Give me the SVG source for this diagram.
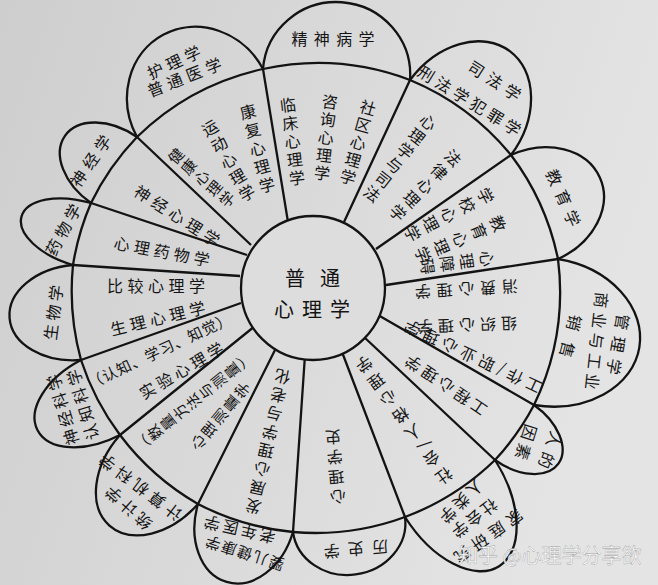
<svg xmlns="http://www.w3.org/2000/svg" width="658" height="585" viewBox="0 0 658 585">
<defs>
<linearGradient id="bg" x1="0" y1="0" x2="1" y2="0.3">
<stop offset="0" stop-color="#cecece"/>
<stop offset="1" stop-color="#e4e4e4"/>
</linearGradient>
<style>
.ln{fill:none;stroke:#131313;stroke-width:2.3;stroke-linejoin:round}
text{font-family:"Noto Sans CJK SC","Noto Sans CJK TC",sans-serif;fill:#141414;font-size:16px}
.h{text-anchor:middle;dominant-baseline:central}
.v{writing-mode:vertical-rl;text-anchor:middle;dominant-baseline:central}
.c{font-size:20px}
.wm{fill:#ffffff;font-size:20px;stroke:#9a9a9a;stroke-width:0.4}
</style>
</defs>
<rect width="658" height="585" fill="url(#bg)"/>

<g id="connectors">
<path class="ln" d="M263,69 A260,260 0 0 1 410,80 A260,260 0 0 1 511,155 A260,260 0 0 1 558,259 A260,260 0 0 1 534,405 A260,260 0 0 1 495,460 A260,260 0 0 1 405,517 A260,260 0 0 1 293,532 A260,260 0 0 1 198,504 A260,260 0 0 1 120,435 A260,260 0 0 1 81,360 A260,260 0 0 1 73,265 A260,260 0 0 1 91,203 A260,260 0 0 1 137,137 A260,260 0 0 1 263,69 Z"/>
<path class="ln" d="M263,69 L288,222 M410,80 L344,222 M511,155 L376,249 M558,259 L386,285 M534,405 L378,315 M495,460 L364,337 M405,517 L342,352 M293,532 L305,355 M198,504 L275,350 M120,435 L255,326 M81,360 L241,303 M73,265 L240,276 M91,203 L247,255 M137,137 L251,245"/>
</g>

<g id="petal-psychiatry"><path class="ln" d="M263,69 A73.2,72 4.3 0 1 410,80"/>
<text class="h" transform="translate(333,38)" x="3.15" letter-spacing="6.3">精神病学</text></g>
<g id="petal-law"><path class="ln" d="M410,80 A62.4,82 36.6 0 1 511,155"/>
<text class="h" transform="translate(495,80) rotate(32.6)" x="2.85" letter-spacing="5.7">司法学</text>
<text class="h" transform="translate(470,100) rotate(31.7)" x="2.15" letter-spacing="4.3">刑法学犯罪学</text></g>
<g id="petal-education"><path class="ln" d="M511,155 A56.5,71 65.7 0 1 558,259"/>
<text class="h" transform="translate(564,197.5) rotate(66.3)" x="3.2" letter-spacing="6.4">教育学</text></g>
<g id="petal-business"><path class="ln" d="M558,259 A73.5,94 99.3 0 1 534,405"/>
<text class="h" transform="translate(619,344.5) rotate(100)" x="3.4" letter-spacing="6.8">管理学</text>
<text class="h" transform="translate(597.5,341) rotate(96.3)" x="2.25" letter-spacing="4.5">商业与工业</text>
<text class="h" transform="translate(571.5,336.5) rotate(104.5)" x="6" letter-spacing="12">销售</text></g>
<g id="petal-human-factors"><path class="ln" d="M534,405 A33.2,53 125.3 0 1 495,460"/>
<text class="h" transform="translate(551,450.5) rotate(110.9)" x="3" letter-spacing="6">人的</text>
<text class="h" transform="translate(527,442.5) rotate(107.5)" x="2" letter-spacing="4">因素</text></g>
<g id="petal-family"><path class="ln" d="M495,460 A52.7,91 147.7 0 1 405,517"/>
<text class="h" transform="translate(489,537) rotate(144.6)" x="2.65" letter-spacing="5.3">家庭研究</text>
<text class="h" transform="translate(475,519) rotate(142.8)" x="1.1" letter-spacing="2.2">社会学</text>
<text class="h" transform="translate(462,502) rotate(135)" x="1.45" letter-spacing="2.9">人类学</text></g>
<g id="petal-history"><path class="ln" d="M405,517 A56,50 172.4 0 1 293,532"/>
<text class="h" transform="translate(356,550) rotate(175)" x="4.1" letter-spacing="8.2">历史学</text></g>
<g id="petal-infant"><path class="ln" d="M293,532 A49,66 196.4 0 1 198,504"/>
<text class="h" transform="translate(244.5,554) rotate(197.4)" x="0.8" letter-spacing="1.6" style="font-size:15px">婴儿健康学</text>
<text class="h" transform="translate(239.5,530.5) rotate(193)" x="1.45" letter-spacing="2.9">老年医学</text></g>
<g id="petal-computer"><path class="ln" d="M198,504 A51.5,74 221.5 0 1 120,435"/>
<text class="h" transform="translate(140,488) rotate(217.1)" x="2.35" letter-spacing="4.7">计算机科学</text>
<text class="h" transform="translate(128,508.5) rotate(222)" x="2" letter-spacing="4">统计学</text></g>
<g id="petal-cognitive"><path class="ln" d="M120,435 A41.7,70 242.5 0 1 81,360"/>
<text class="h" transform="translate(62,410) rotate(-107)" x="1.5" letter-spacing="3">神经科学</text>
<text class="h" transform="translate(82,405) rotate(-107)" x="1.5" letter-spacing="3">认知科学</text></g>
<g id="petal-biology"><path class="ln" d="M81,360 A47.2,67 265.2 0 1 73,265"/>
<text class="h" transform="translate(52.5,312.5) rotate(-82.7)" x="1.85" letter-spacing="3.7">生物学</text></g>
<g id="petal-pharmacology"><path class="ln" d="M73,265 A31.8,62 286.2 0 1 91,203"/>
<text class="h" transform="translate(62.5,229.5) rotate(-61.5)" x="1.95" letter-spacing="3.9">药物学</text></g>
<g id="petal-neurology"><path class="ln" d="M91,203 A39.7,59 304.9 0 1 137,137"/>
<text class="h" transform="translate(90,160.5) rotate(-55.6)" x="2.6" letter-spacing="5.2">神经学</text></g>
<g id="petal-medicine"><path class="ln" d="M137,137 A71.1,77 331.6 0 1 263,69"/>
<text class="h" transform="translate(173.5,61.5) rotate(-24.7)" x="2.2" letter-spacing="4.4">护理学</text>
<text class="h" transform="translate(184,76.5) rotate(-21.6)" x="2.4" letter-spacing="4.8">普通医学</text></g>

<g id="sector-clinical">
<text class="v" transform="translate(292.5,141.5) rotate(-7)" y="1.2" letter-spacing="2.4">临床心理学</text>
<text class="v" transform="translate(326,137.5) rotate(6.4)" y="0.95" letter-spacing="1.9">咨询心理学</text>
<text class="v" transform="translate(358,142.5) rotate(16)" y="1" letter-spacing="2">社区心理学</text>
</g>
<g id="sector-health">
<text class="v" transform="translate(257.5,148.5) rotate(-14.6)" y="1.45" letter-spacing="2.9">康复心理学</text>
<text class="v" transform="translate(228.5,160.5) rotate(-29.6)" y="1.35" letter-spacing="2.7">运动心理学</text>
<text class="v" transform="translate(201.5,177.5) rotate(-49.9)" y="0.85" letter-spacing="1.7" style="font-size:15px">健康心理学</text>
</g>
<g id="sector-neuropsychology">
<text class="h" transform="translate(177.5,215) rotate(32.5)" x="2.25" letter-spacing="4.5">神经心理学</text>
</g>
<g id="sector-psychopharmacology">
<text class="h" transform="translate(162,250.5) rotate(10.6)" x="2.15" letter-spacing="4.3">心理药物学</text>
</g>
<g id="sector-biological">
<text class="h" transform="translate(156,285)" x="2.25" letter-spacing="4.5">比较心理学</text>
<text class="h" transform="translate(157.5,317.5) rotate(-13.5)" x="2.15" letter-spacing="4.3">生理心理学</text>
</g>
<g id="sector-experimental">
<text class="h" transform="translate(159,350) rotate(-25)" x="0.35" letter-spacing="0.7" style="font-size:15px">（认知、学习、知觉）</text>
<text class="h" transform="translate(181,370) rotate(-30.5)" x="1.85" letter-spacing="3.7">实验心理学</text>
</g>
<g id="sector-psychometrics">
<text class="v" transform="translate(193.5,401.5) rotate(-128.9)" y="0.75" letter-spacing="1.5" style="font-size:15px">（数量方法与测量）</text>
<text class="v" transform="translate(220,416.5) rotate(-140.3)" y="1.1" letter-spacing="2.2" style="font-size:15px">心理测量学</text>
</g>
<g id="sector-developmental">
<text class="v" transform="translate(268,441.5) rotate(-167.3)" y="1.5" letter-spacing="3">发展心理学与老化</text>
</g>
<g id="sector-history">
<text class="v" transform="translate(335.5,467) rotate(175.2)" y="2" letter-spacing="4">心理学史</text>
</g>
<g id="sector-social">
<text class="v" transform="translate(404,420) rotate(144.3)" y="2.5" letter-spacing="5">社会/人格心理学</text>
</g>
<g id="sector-engineering">
<text class="h" transform="translate(445.5,386) rotate(214.1)" x="1.8" letter-spacing="3.6">工程心理学</text>
</g>
<g id="sector-industrial">
<text class="h" transform="translate(466.5,290) rotate(176.7)" x="2.9" letter-spacing="5.8">消费心理学</text>
<text class="h" transform="translate(467,326) rotate(178)" x="2.5" letter-spacing="5">组织心理学</text>
<text class="h" transform="translate(472.5,357.5) rotate(205.3)" x="2.25" letter-spacing="4.5">工作/职业心理学</text>
</g>
<g id="sector-educational">
<text class="v" transform="translate(449,214.5) rotate(62.8)" y="2.25" letter-spacing="4.5">学校心理学</text>
<text class="v" transform="translate(460.5,239) rotate(67.5)" y="2.15" letter-spacing="4.3">教育心理学</text>
<text class="v" transform="translate(457,262.5) rotate(82.4)" y="2" letter-spacing="4">心理障碍</text>
</g>
<g id="sector-forensic">
<text class="v" transform="translate(400,158) rotate(37.9)" y="1.1" letter-spacing="2.2">心理学与司法</text>
<text class="v" transform="translate(425.5,185.5) rotate(45)" y="1.7" letter-spacing="3.4">法律心理学</text>
</g>

<g id="center">
<circle cx="313" cy="288" r="72" fill="#dddddd" stroke="#131313" stroke-width="2.3"/>
<text class="h c" x="320" y="277" letter-spacing="15">普通</text>
<text class="h c" x="316" y="308" letter-spacing="8">心理学</text>
</g>

<text class="wm" x="458" y="563">知乎 @心理学分享欲</text>
</svg>
